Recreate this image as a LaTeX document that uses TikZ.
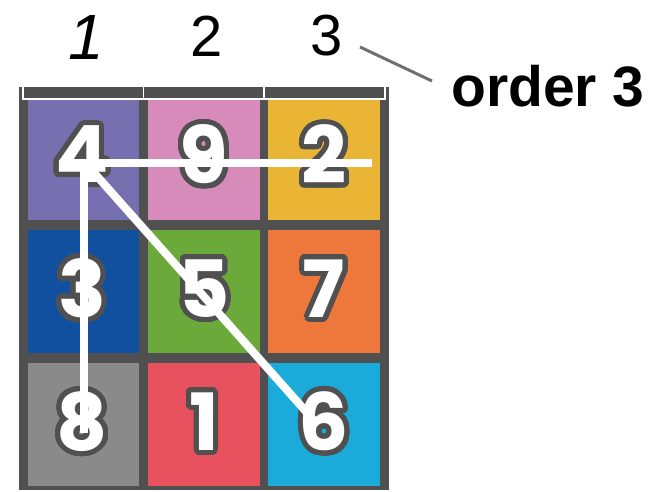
\documentclass[tikz,border=0pt]{standalone}
\usepackage{fontspec}
\setmainfont{Liberation Sans}
\newfontfamily\digitfont{Poppins}
\usepackage[copies]{contour}
\contourlength{5pt}
\contournumber{48}
\definecolor{frame}{HTML}{505050}
\definecolor{cpurple}{HTML}{7670B0}
\definecolor{cpink}{HTML}{D68BBB}
\definecolor{cyellow}{HTML}{EAB434}
\definecolor{cblue}{HTML}{10509F}
\definecolor{cgreen}{HTML}{6BAA3A}
\definecolor{corange}{HTML}{EE783C}
\definecolor{cgray}{HTML}{8A8A8A}
\definecolor{cred}{HTML}{E8525E}
\definecolor{ccyan}{HTML}{1AABDA}
\definecolor{leader}{HTML}{707070}
\tikzset{
  cell/.style={fill=#1, draw=none},
  digit/.style={inner sep=0pt, anchor=center, font=\digitfont\bfseries\fontsize{79}{79}\selectfont},
  collabel/.style={inner sep=0pt, anchor=base, font=\fontsize{58}{58}\selectfont},
  orderlabel/.style={inner sep=0pt, anchor=base west, font=\bfseries\fontsize{57}{57}\selectfont},
  pathline/.style={draw=white, line width=8pt},
  bracket/.style={draw=white, line width=1.5pt},
  leaderline/.style={draw=leader, line width=3pt}
}
\newcommand{\dg}[1]{\contour{frame}{\textcolor{white}{#1}}}
\begin{document}
\begin{tikzpicture}[x=1pt, y=-1pt]
\useasboundingbox (0,0) rectangle (651,492);
\fill[white] (0,0) rectangle (651,492);
% frame
\fill[frame] (19,87) rectangle (389,490);
% cells
\fill[cell=cpurple] (28,99) rectangle (139,220);
\fill[cell=cpink]   (148,99) rectangle (260,220);
\fill[cell=cyellow] (268,99) rectangle (380,220);
\fill[cell=cblue]   (28,230) rectangle (139,353);
\fill[cell=cgreen]  (148,230) rectangle (260,353);
\fill[cell=corange] (268,230) rectangle (380,353);
\fill[cell=cgray]   (28,363) rectangle (139,486);
\fill[cell=cred]    (148,363) rectangle (260,486);
\fill[cell=ccyan]   (268,363) rectangle (380,486);
% bracket
\draw[bracket] (23,87) -- (23,99) -- (385,99) -- (385,87);
\draw[bracket] (143.5,87) -- (143.5,99);
\draw[bracket] (264,87) -- (264,99);
% digits
\node[digit] (d4) at (82,157) {\dg{4}};
\node[digit] (d9) at (204,157) {\dg{9}};
\node[digit] (d2) at (324,157) {\dg{2}};
\node[digit] (d3) at (82,291) {\dg{3}};
\node[digit] (d5) at (204,291) {\dg{5}};
\node[digit] (d7) at (324,291) {\dg{7}};
\node[digit] (d8) at (82,424) {\dg{8}};
\node[digit] (d1) at (204,424) {\dg{1}};
\node[digit] (d6) at (324,424) {\dg{6}};
% path lines
\coordinate (hs) at (60,163);
\coordinate (he) at (372,163);
\coordinate (vs) at (84,163);
\coordinate (ve) at (84,433);
\coordinate (ds) at (88,166);
\coordinate (de) at (318,425);
\draw[pathline] (hs) -- (he);
\draw[pathline] (vs) -- (ve);
\draw[pathline] (ds) -- (de);
% column labels
\node[collabel, font=\itshape\fontsize{64}{64}\selectfont] (c1) at (86,60) {1};
\node[collabel] (c2) at (207,57) {2};
\node[collabel] (c3) at (327,56) {3};
% order label
\node[orderlabel] (ord) at (451,107) {order 3};
\coordinate (la) at (360,47);
\coordinate (lb) at (432,81);
\draw[leaderline] (la) -- (lb);
\end{tikzpicture}
\end{document}
